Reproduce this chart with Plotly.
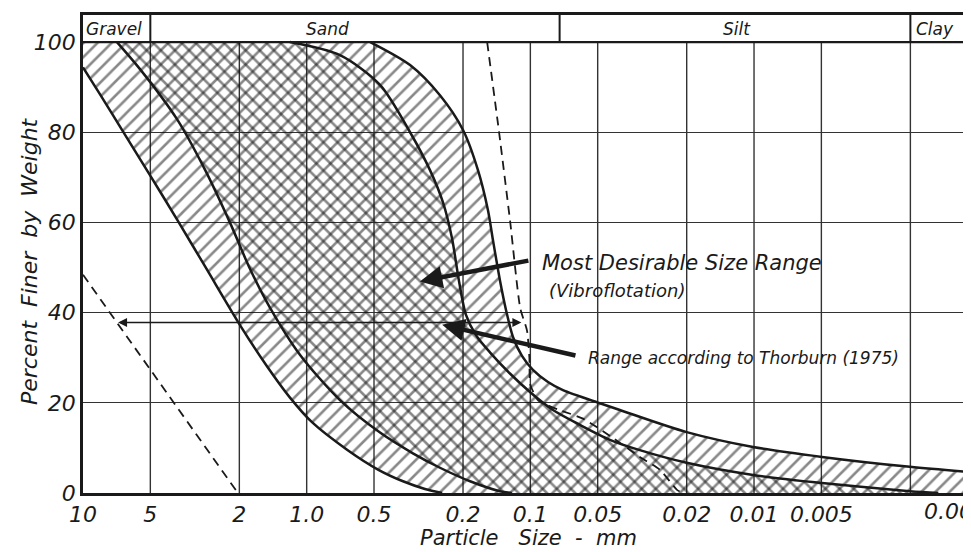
import math
import plotly.graph_objects as go

# ---------------- data ----------------
x_tick_vals = [10, 5, 2, 1, 0.5, 0.2, 0.1, 0.05, 0.02, 0.01, 0.005]
x_tick_text = ["10", "5", "2", "1.0", "0.5", "0.2", "0.1", "0.05", "0.02", "0.01", "0.005"]
x_grid_vals = [5, 2, 1, 0.5, 0.2, 0.1, 0.05, 0.02, 0.01, 0.005, 0.002]
y_tick_vals = [0, 20, 40, 60, 80, 100]
y_tick_text = ["0", "20", "40", "60", "80", "100"]
last_tick_text = "0.001"

# soil classes (header band)
class_bounds = [5, 0.074, 0.002]
class_names = ["Gravel", "Sand", "Silt", "Clay"]
class_label_x = [7.26, 0.81, 0.0119, 0.00155]

# Thorburn (1975) range - coarse limit
thor_coarse_x = [10, 8.39, 6.63, 5.02, 3.76, 2.82, 1.99, 1.505, 1.19, 0.947, 0.66, 0.48, 0.371, 0.296, 0.248]
thor_coarse_y = [94.4, 88.4, 80.2, 70.5, 60.3, 49.9, 37.3, 28.1, 21.2, 15.7, 9.6, 5.2, 2.6, 0.9, 0.0]
# Thorburn (1975) range - fine limit
thor_fine_x = [0.52, 0.345, 0.2536, 0.20, 0.1715, 0.1547, 0.147, 0.1368, 0.1285, 0.1196, 0.109, 0.0974,
               0.0834, 0.0715, 0.0489, 0.0398, 0.020, 0.0101, 0.00497, 0.00201, 0.001]
thor_fine_y = [100, 94.9, 88.2, 80.5, 71.6, 62.7, 56.1, 47.2, 40.6, 34.6, 30.4, 27.3,
               24.6, 22.8, 19.9, 18.4, 13.5, 10.2, 8.0, 5.8, 4.5]

# Vibroflotation most desirable range - coarse limit
vib_coarse_x = [7.05, 5.56, 3.80, 2.85, 2.20, 1.80, 1.46, 1.07, 0.71, 0.47, 0.335, 0.2536, 0.186, 0.137, 0.121]
vib_coarse_y = [100, 94.0, 82.9, 71.7, 59.9, 49.9, 41.1, 30.6, 20.6, 13.4, 8.8, 5.6, 2.6, 0.4, 0.0]
# Vibroflotation most desirable range - fine limit
vib_fine_x = [1.19, 0.71, 0.47, 0.345, 0.281, 0.246, 0.224, 0.2085, 0.194, 0.175, 0.1516, 0.1234, 0.1004,
              0.0792, 0.060, 0.0441, 0.0324, 0.020, 0.0101, 0.00497, 0.00201, 0.0015]
vib_fine_y = [100, 97.1, 90.5, 80.0, 71.6, 64.5, 56.5, 47.0, 39.5, 35.0, 31.2, 26.5, 22.4,
              18.4, 15.1, 11.8, 9.5, 6.7, 4.0, 2.2, 0.4, 0.0]

# dashed limit lines
dash_left_x = [10, 2.03]
dash_left_y = [48.4, 0]
dash_right_x = [0.156, 0.138, 0.123, 0.111, 0.1035, 0.101, 0.1, 0.092, 0.075, 0.0582, 0.0427, 0.0324, 0.0263, 0.0221, 0.0208]
dash_right_y = [100, 80, 60, 41, 36, 30, 24, 20.5, 18.5, 16.5, 12.2, 8.0, 5.1, 0.7, 0.0]

# range marker between dashed lines
range_line_x = [6.97, 0.108]
range_line_y = 37.8

# label arrows (head, tail)
arrow_vib = {"head": (0.312, 46.9), "tail": (0.1005, 51.6)}
arrow_thor = {"head": (0.248, 37.3), "tail": (0.0619, 30.4)}
label_vib1 = ("Most Desirable Size Range", 0.0906, 51.0)
label_vib2 = ("(Vibroflotation)", 0.0843, 45.0)
label_thor = ("Range according to Thorburn (1975)", 0.0564, 29.9)

# ---------------- figure ----------------
FONT = "DejaVu Sans"
INK = "#1a1a1a"
Y_TOP = 106.0
X_RANGE = [1, -2.97]
# the page body adds an 8 px offset, so the figure is 8 px smaller than the window
W, H = 963, 544
ML, MT, MB = 75, 7, 59

fig = go.Figure()

# vertical grid lines (only inside the data area)
gx, gy = [], []
for v in x_grid_vals:
    gx += [v, v, None]
    gy += [0, 100, None]
fig.add_trace(go.Scatter(x=gx, y=gy, mode="lines", line=dict(color="#333", width=1.4),
                         hoverinfo="skip", showlegend=False))

# header dividers
hx, hy = [], []
for v in class_bounds:
    hx += [v, v, None]
    hy += [100, Y_TOP, None]
fig.add_trace(go.Scatter(x=hx, y=hy, mode="lines", line=dict(color=INK, width=2),
                         hoverinfo="skip", showlegend=False))

# Thorburn range polygon (single hatching)
tx = thor_coarse_x + [thor_fine_x[-1]] + thor_fine_x[::-1] + [thor_coarse_x[0]]
ty = thor_coarse_y + [0] + thor_fine_y[::-1] + [100]
fig.add_trace(go.Scatter(x=tx, y=ty, mode="lines", fill="toself", line=dict(width=0),
                         fillcolor="rgba(0,0,0,0)",
                         fillpattern=dict(shape="/", fgcolor="#111", bgcolor="rgba(0,0,0,0)",
                                          size=10, solidity=0.26),
                         hoverinfo="skip", showlegend=False))

# Vibroflotation range polygon (second hatching -> cross hatch)
vx = vib_coarse_x + [vib_fine_x[-1]] + vib_fine_x[::-1]
vy = vib_coarse_y + [0] + vib_fine_y[::-1]
fig.add_trace(go.Scatter(x=vx, y=vy, mode="lines", fill="toself", line=dict(width=0),
                         fillcolor="rgba(0,0,0,0)",
                         fillpattern=dict(shape="\\", fgcolor="#111", bgcolor="rgba(0,0,0,0)",
                                          size=10, solidity=0.26),
                         hoverinfo="skip", showlegend=False))

# boundary curves
for cx, cy in [(thor_coarse_x, thor_coarse_y), (vib_coarse_x, vib_coarse_y),
               (vib_fine_x, vib_fine_y), (thor_fine_x, thor_fine_y)]:
    fig.add_trace(go.Scatter(x=cx, y=cy, mode="lines",
                             line=dict(color=INK, width=2.5, shape="spline", smoothing=0.8),
                             hoverinfo="skip", showlegend=False))

# dashed lines
fig.add_trace(go.Scatter(x=dash_left_x, y=dash_left_y, mode="lines",
                         line=dict(color=INK, width=1.8, dash="9px,6px"),
                         hoverinfo="skip", showlegend=False))
fig.add_trace(go.Scatter(x=dash_right_x, y=dash_right_y, mode="lines",
                         line=dict(color=INK, width=1.8, dash="9px,6px", shape="spline", smoothing=0.6),
                         hoverinfo="skip", showlegend=False))

# 100 % line (header bottom)
fig.add_trace(go.Scatter(x=[10, 0.0009], y=[100, 100], mode="lines",
                         line=dict(color=INK, width=2.2), hoverinfo="skip", showlegend=False))

annotations = []
# header labels
for name, lx in zip(class_names, class_label_x):
    annotations.append(dict(x=math.log10(lx), y=102.9, xref="x", yref="y", text=name,
                            showarrow=False, font=dict(family=FONT, size=17, color=INK, style="italic")))

# range marker (double arrow)
annotations.append(dict(x=math.log10(range_line_x[0]), y=range_line_y,
                        ax=math.log10(range_line_x[1]), ay=range_line_y,
                        xref="x", yref="y", axref="x", ayref="y", text="", showarrow=True,
                        arrowhead=2, startarrowhead=2, arrowside="end+start", arrowsize=1.2,
                        arrowwidth=1.5, arrowcolor=INK))

# thick label arrows
for arr in (arrow_vib, arrow_thor):
    (hx_, hy_), (tx_, ty_) = arr["head"], arr["tail"]
    annotations.append(dict(x=math.log10(hx_), y=hy_, ax=math.log10(tx_), ay=ty_,
                            xref="x", yref="y", axref="x", ayref="y", text="", showarrow=True,
                            arrowhead=2, arrowsize=1.0, arrowwidth=4.5, arrowcolor=INK))

for (txt, lx, ly), size in [(label_vib1, 21), (label_vib2, 18), (label_thor, 17)]:
    annotations.append(dict(x=math.log10(lx), y=ly, xref="x", yref="y", text=txt, showarrow=False,
                            xanchor="left", yanchor="middle",
                            font=dict(family=FONT, size=size, color=INK, style="italic")))

# last (cut off) tick label
annotations.append(dict(x=(922 - 83) / 888, y=0.0, xref="paper", yref="paper", text=last_tick_text,
                        showarrow=False, xanchor="left", yanchor="top", yshift=-4,
                        font=dict(family=FONT, size=22, color=INK, style="italic")))

# axis titles
annotations.append(dict(x=(528 - 83) / 888, y=-(538 - 493) / 478, xref="paper", yref="paper",
                        text="Particle   Size  -  mm", showarrow=False, yanchor="middle",
                        font=dict(family=FONT, size=21, color=INK, style="italic")))
annotations.append(dict(x=-(83 - 29) / 888, y=(493 - 261) / 478, xref="paper", yref="paper",
                        text="Percent  Finer  by  Weight", showarrow=False, textangle=-90,
                        xanchor="center", yanchor="middle",
                        font=dict(family=FONT, size=22, color=INK, style="italic")))

fig.update_layout(
    width=W, height=H,
    margin=dict(l=ML, r=0, t=MT, b=MB),
    paper_bgcolor="white", plot_bgcolor="white",
    showlegend=False,
    annotations=annotations,
    xaxis=dict(type="log", range=X_RANGE, tickvals=x_tick_vals, ticktext=x_tick_text,
               showgrid=False, zeroline=False, showline=True, linewidth=2.5, linecolor=INK,
               mirror=True, ticks="", automargin=False,
               tickfont=dict(family=FONT, size=22, color=INK, style="italic")),
    yaxis=dict(range=[0, Y_TOP], tickvals=y_tick_vals, ticktext=y_tick_text,
               showgrid=True, gridcolor="#333", gridwidth=1.4, zeroline=False,
               showline=True, linewidth=2.5, linecolor=INK, ticks="", automargin=False,
               tickfont=dict(family=FONT, size=22, color=INK, style="italic")),
)

fig.write_html("out.html")
